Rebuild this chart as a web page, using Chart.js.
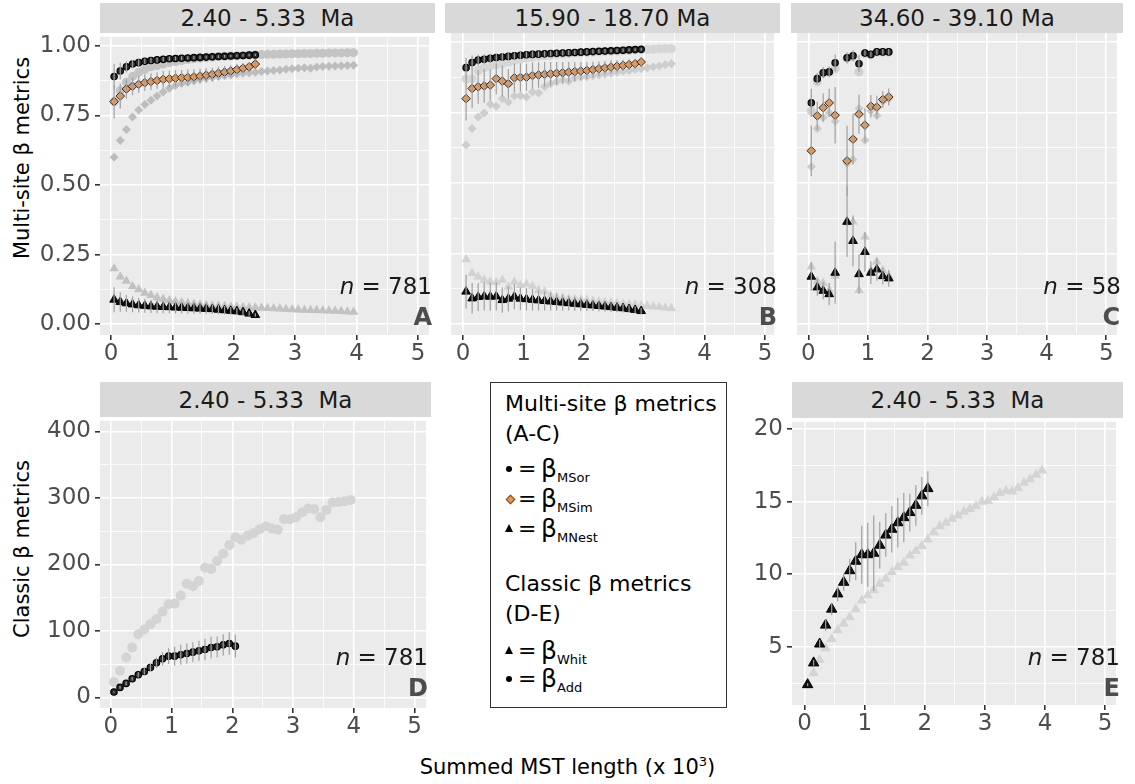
<!DOCTYPE html>
<html><head><meta charset="utf-8">
<script src="https://cdn.jsdelivr.net/npm/chart.js@4.4.1/dist/chart.umd.min.js"></script>
<style>
html,body{margin:0;padding:0;background:#fff;}
body{width:1135px;height:784px;position:relative;overflow:hidden;font-family:"DejaVu Sans",sans-serif;}
.strip{position:absolute;background:#D9D9D9;color:#1A1A1A;font-size:23px;display:flex;align-items:center;justify-content:center;white-space:pre;}
canvas{position:absolute;}
.nlab{position:absolute;font-size:23px;color:#1A1A1A;white-space:nowrap;line-height:26px;}
.plab{position:absolute;font-size:24px;font-weight:bold;color:#4D4D4D;line-height:26px;}
.ytitle{position:absolute;font-size:21px;color:#000;white-space:nowrap;transform:translate(-50%,-50%) rotate(-90deg);}
#legend{position:absolute;left:490px;top:382px;width:237px;height:326px;border:1px solid #333;box-sizing:border-box;background:#fff;}
.lt{position:absolute;left:14px;font-size:22px;color:#000;line-height:26px;white-space:nowrap;}
.lrow{position:absolute;left:14px;height:26px;width:200px;}
.lrow .s{position:absolute;}
.lrow .eq{position:absolute;left:13px;top:0;font-size:22px;line-height:26px;}
.lrow .b{position:absolute;left:36px;top:-1px;font-size:25px;line-height:28px;}
.lrow .sub{position:absolute;left:52px;top:14px;font-size:13px;line-height:16px;}
.dot{left:1px;top:10px;width:6px;height:6px;border-radius:50%;background:#000;}
.dia{left:2px;top:10px;width:5px;height:5px;background:#E39A5C;border:1px solid #7a4a20;transform:rotate(45deg);}
.tri{left:0px;top:8px;width:0;height:0;border-left:4px solid transparent;border-right:4px solid transparent;border-bottom:8px solid #000;}
</style></head><body>

<div class="strip" style="left:100px;top:3px;width:335px;height:30px;">2.40 - 5.33  Ma</div>
<div class="strip" style="left:445px;top:3px;width:335px;height:30px;">15.90 - 18.70 Ma</div>
<div class="strip" style="left:791px;top:3px;width:332px;height:30px;">34.60 - 39.10 Ma</div>
<div class="strip" style="left:100px;top:382px;width:331px;height:35px;">2.40 - 5.33  Ma</div>
<div class="strip" style="left:792px;top:382px;width:331px;height:36px;">2.40 - 5.33  Ma</div>

<div class="ytitle" style="left:22px;top:158px;">Multi-site β metrics</div>
<div class="ytitle" style="left:22px;top:549px;">Classic β metrics</div>
<div style="position:absolute;left:0;width:1135px;top:754px;text-align:center;font-size:21px;color:#000;">Summed MST length (x 10<sup style="font-size:13px;">3</sup>)</div>

<div id="legend">
  <div class="lt" style="top:8px;">Multi-site β metrics</div>
  <div class="lt" style="top:38px;">(A-C)</div>
  <div class="lrow" style="top:73px;"><span class="s dot"></span><span class="eq">=</span><span class="b">β</span><span class="sub">MSor</span></div>
  <div class="lrow" style="top:103px;"><span class="s dia"></span><span class="eq">=</span><span class="b">β</span><span class="sub">MSim</span></div>
  <div class="lrow" style="top:133px;"><span class="s tri"></span><span class="eq">=</span><span class="b">β</span><span class="sub">MNest</span></div>
  <div class="lt" style="top:188px;">Classic β metrics</div>
  <div class="lt" style="top:218px;">(D-E)</div>
  <div class="lrow" style="top:255px;"><span class="s tri"></span><span class="eq">=</span><span class="b">β</span><span class="sub">Whit</span></div>
  <div class="lrow" style="top:283px;"><span class="s dot"></span><span class="eq">=</span><span class="b">β</span><span class="sub">Add</span></div>
</div>

<script>
// ---------- x positions (summed MST length, x10^3) ----------
const x13 = [0.05,0.15,0.25,0.35,0.45,0.65,0.75,0.85,0.95,1.05,1.15,1.25,1.35];
const x21 = [0.05,0.15,0.25,0.35,0.45,0.55,0.65,0.75,0.85,0.95,1.05,1.15,1.25,1.35,1.45,1.55,1.65,1.75,1.85,1.95,2.05];
const x24 = [0.05,0.15,0.25,0.35,0.45,0.55,0.65,0.75,0.85,0.95,1.05,1.15,1.25,1.35,1.45,1.55,1.65,1.75,1.85,1.95,2.05,2.15,2.25,2.35];
const x30 = [0.05,0.15,0.25,0.35,0.45,0.55,0.65,0.75,0.85,0.95,1.05,1.15,1.25,1.35,1.45,1.55,1.65,1.75,1.85,1.95,2.05,2.15,2.25,2.35,2.45,2.55,2.65,2.75,2.85,2.95];
const x35 = [0.05,0.15,0.25,0.35,0.45,0.55,0.65,0.75,0.85,0.95,1.05,1.15,1.25,1.35,1.45,1.55,1.65,1.75,1.85,1.95,2.05,2.15,2.25,2.35,2.45,2.55,2.65,2.75,2.85,2.95,3.05,3.15,3.25,3.35,3.45];
const x40 = [0.05,0.15,0.25,0.35,0.45,0.55,0.65,0.75,0.85,0.95,1.05,1.15,1.25,1.35,1.45,1.55,1.65,1.75,1.85,1.95,2.05,2.15,2.25,2.35,2.45,2.55,2.65,2.75,2.85,2.95,3.05,3.15,3.25,3.35,3.45,3.55,3.65,3.75,3.85,3.95];

// ---------- tick values ----------
const xTicks = [0,0.5,1,1.5,2,2.5,3,3.5,4,4.5,5];
const xTickLabels = ['0','','1','','2','','3','','4','','5'];
const yTicksMS = [0,0.125,0.25,0.375,0.5,0.625,0.75,0.875,1];
const yTickLabelsMS = ['0.00','','0.25','','0.50','','0.75','','1.00'];
const yTicksD = [0,50,100,150,200,250,300,350,400];
const yTickLabelsD = ['0','','100','','200','','300','','400'];
const yTicksE = [2.5,5,7.5,10,12.5,15,17.5,20];
const yTickLabelsE = ['','5','','10','','15','','20'];

// ---------- Panel A (2.40 - 5.33 Ma, multi-site) ----------
const A_sorBlack = [0.89,0.91,0.925,0.935,0.94,0.945,0.948,0.95,0.952,0.954,0.955,0.956,0.957,0.958,0.959,0.96,0.961,0.962,0.963,0.964,0.965,0.966,0.967,0.968];
const A_sorBlackErr = [0.045,0.03,0.02,0.015,0.012,0.01,0.01,0.009,0.008,0.008,0.007,0.007,0.006,0.006,0.006,0.005,0.005,0.005,0.005,0.004,0.004,0.004,0.004,0.004];
const A_sorGrey = [0.80,0.84,0.87,0.89,0.905,0.915,0.925,0.93,0.935,0.94,0.944,0.948,0.951,0.954,0.956,0.958,0.96,0.962,0.963,0.964,0.965,0.966,0.967,0.968,0.969,0.97,0.97,0.971,0.971,0.972,0.972,0.973,0.973,0.974,0.974,0.975,0.975,0.975,0.976,0.976];
const A_simOrange = [0.80,0.82,0.845,0.855,0.862,0.868,0.872,0.876,0.88,0.882,0.884,0.886,0.887,0.889,0.892,0.895,0.898,0.902,0.906,0.91,0.915,0.92,0.925,0.935];
const A_simOrangeErr = [0.06,0.045,0.035,0.032,0.03,0.03,0.03,0.03,0.03,0.03,0.029,0.028,0.028,0.027,0.026,0.025,0.024,0.023,0.022,0.021,0.02,0.018,0.016,0.014];
const A_simGrey = [0.60,0.66,0.70,0.745,0.77,0.79,0.805,0.82,0.835,0.848,0.858,0.865,0.87,0.875,0.88,0.884,0.887,0.89,0.893,0.896,0.899,0.902,0.904,0.906,0.908,0.91,0.912,0.914,0.916,0.918,0.92,0.922,0.92,0.924,0.926,0.927,0.928,0.929,0.93,0.931];
const A_nesBlack = [0.088,0.08,0.075,0.071,0.068,0.066,0.064,0.063,0.062,0.061,0.06,0.059,0.058,0.057,0.056,0.055,0.054,0.052,0.05,0.048,0.046,0.043,0.038,0.033];
const A_nesBlackErr = [0.045,0.035,0.03,0.028,0.026,0.025,0.024,0.024,0.023,0.022,0.022,0.021,0.02,0.02,0.019,0.018,0.017,0.016,0.015,0.014,0.012,0.01,0.008,0.006];
const A_nesGrey = [0.20,0.17,0.155,0.135,0.125,0.112,0.104,0.096,0.09,0.085,0.081,0.078,0.075,0.072,0.07,0.068,0.066,0.065,0.064,0.063,0.062,0.061,0.06,0.059,0.058,0.057,0.056,0.055,0.054,0.053,0.052,0.051,0.05,0.05,0.049,0.048,0.047,0.046,0.045,0.044];

// ---------- Panel B (15.90 - 18.70 Ma) ----------
const B_sorBlack = [0.91,0.928,0.937,0.94,0.943,0.946,0.948,0.95,0.952,0.954,0.956,0.957,0.958,0.959,0.96,0.961,0.962,0.963,0.964,0.965,0.966,0.967,0.968,0.969,0.97,0.971,0.972,0.973,0.974,0.975];
const B_sorBlackErr = [0.035,0.025,0.02,0.018,0.016,0.015,0.014,0.013,0.012,0.012,0.011,0.011,0.01,0.01,0.01,0.009,0.009,0.009,0.008,0.008,0.008,0.007,0.007,0.007,0.006,0.006,0.006,0.005,0.005,0.005];
const B_sorGrey = [0.87,0.87,0.9,0.91,0.915,0.92,0.925,0.93,0.935,0.94,0.944,0.947,0.95,0.952,0.954,0.956,0.958,0.96,0.962,0.963,0.964,0.965,0.966,0.967,0.968,0.969,0.97,0.971,0.972,0.973,0.974,0.975,0.976,0.977,0.977];
const B_simOrange = [0.80,0.836,0.842,0.845,0.848,0.871,0.862,0.853,0.874,0.875,0.876,0.882,0.884,0.886,0.888,0.89,0.892,0.894,0.896,0.898,0.9,0.903,0.906,0.909,0.912,0.915,0.918,0.921,0.924,0.93];
const B_simOrangeErr = [0.078,0.07,0.06,0.06,0.055,0.055,0.055,0.052,0.05,0.05,0.048,0.046,0.045,0.044,0.042,0.04,0.038,0.036,0.034,0.032,0.03,0.028,0.026,0.025,0.024,0.022,0.02,0.019,0.018,0.016];
const B_simGrey = [0.635,0.694,0.735,0.749,0.78,0.773,0.80,0.788,0.809,0.81,0.806,0.824,0.82,0.842,0.853,0.86,0.866,0.862,0.874,0.876,0.878,0.881,0.884,0.887,0.89,0.894,0.897,0.9,0.903,0.906,0.91,0.913,0.916,0.92,0.924];
const B_nesBlack = [0.115,0.091,0.096,0.098,0.097,0.098,0.085,0.09,0.097,0.09,0.088,0.086,0.084,0.082,0.08,0.078,0.076,0.074,0.072,0.07,0.068,0.066,0.064,0.062,0.06,0.058,0.056,0.053,0.05,0.046];
const B_nesBlackErr = [0.06,0.055,0.05,0.05,0.05,0.05,0.045,0.045,0.045,0.04,0.04,0.038,0.036,0.034,0.032,0.03,0.028,0.026,0.025,0.024,0.022,0.02,0.019,0.018,0.017,0.016,0.015,0.014,0.013,0.012];
const B_nesGrey = [0.229,0.18,0.168,0.156,0.15,0.148,0.156,0.132,0.15,0.138,0.142,0.135,0.12,0.115,0.1,0.095,0.092,0.09,0.088,0.086,0.084,0.082,0.08,0.078,0.076,0.074,0.072,0.07,0.068,0.066,0.064,0.062,0.06,0.058,0.056];

// ---------- Panel C (34.60 - 39.10 Ma) ----------
const C_sorBlack = [0.785,0.871,0.892,0.895,0.927,0.945,0.952,0.924,0.962,0.957,0.966,0.966,0.966];
const C_sorBlackErr = [0.05,0.02,0.02,0.02,0.03,0.02,0.02,0.03,0.01,0.01,0.01,0.01,0.01];
const C_sorGrey = [0.756,0.86,0.89,0.893,0.907,0.943,0.95,0.895,0.96,0.955,0.965,0.965,0.965];
const C_simOrange = [0.615,0.739,0.768,0.785,0.741,0.579,0.656,0.745,0.706,0.773,0.77,0.797,0.806];
const C_simOrangeErr = [0.09,0.05,0.05,0.05,0.1,0.125,0.09,0.07,0.06,0.04,0.04,0.03,0.03];
const C_simGrey = [0.558,0.694,0.733,0.75,0.72,0.57,0.584,0.765,0.652,0.757,0.74,0.79,0.80];
const C_nesBlack = [0.168,0.13,0.118,0.106,0.182,0.363,0.295,0.177,0.256,0.182,0.194,0.17,0.162];
const C_nesBlackErr = [0.05,0.03,0.03,0.04,0.11,0.125,0.09,0.07,0.07,0.04,0.04,0.03,0.03];
const C_nesGrey = [0.203,0.152,0.145,0.12,0.17,0.36,0.363,0.12,0.31,0.19,0.221,0.19,0.17];

// ---------- Panel D (classic, beta Add) ----------
const D_addBlack = [8,15,21,28,34,39,45,52,58,62,62,64,66,68,70,72,75,76,79,81,77];
const D_addBlackErr = [1,2,3,3,4,5,6,8,10,12,14,15,15,15,15,16,16,16,16,17,17];
const D_addGrey = [23,40,60,75,95,102,110,118,129,140,141,153,171,167,175,195,193,205,216,229,241,237,243,247,253,257,254,252,268,268,271,278,284,283,271,282,293,294,295,297];

// ---------- Panel E (classic, beta Whit) ----------
const E_whitBlack = [2.4,3.9,5.2,6.5,7.6,8.65,9.45,10.25,10.9,11.35,11.35,11.45,12.0,12.7,13.1,13.55,13.9,14.25,14.75,15.4,15.9];
const E_whitBlackErr = [0.1,0.2,0.3,0.4,0.4,0.5,0.6,0.8,1.3,2.0,2.2,2.6,1.6,1.5,1.6,1.7,1.7,1.3,1.4,1.3,1.2];
const E_whitGrey = [2.4,3.2,4.1,4.9,5.55,6.15,6.6,7.05,7.6,8.2,8.55,8.9,9.35,9.7,10.15,10.5,10.8,11.3,11.6,11.95,12.4,12.9,13.3,13.55,13.8,14.05,14.3,14.5,14.7,15.0,15.05,15.3,15.6,15.75,15.7,15.95,16.3,16.55,16.85,17.15];

// ---------- helpers ----------
function pts(xs, ys){ return ys.map((y,i)=>({x:xs[i], y:y})); }
function errPts(xs, ys, es){
  const out=[];
  ys.forEach((y,i)=>{ out.push({x:xs[i],y:y-es[i]},{x:xs[i],y:y+es[i]},{x:xs[i],y:null}); });
  return out;
}
const ERR = '#A0A0A0';
function errDS(xs, ys, es){
  return {data:errPts(xs,ys,es), showLine:true, spanGaps:false, pointRadius:0, borderColor:ERR, borderWidth:1.2, order:0};
}
function ptDS(xs, ys, style, r, fill, stroke, bw, order){
  return {data:pts(xs,ys), showLine:false, pointStyle:style, pointRadius:r, pointHoverRadius:r,
    pointBackgroundColor:fill, pointBorderColor:stroke, pointBorderWidth:bw, order:order};
}
const ORANGE='#E39A5C', ORSTROKE='#3A2A1C';
function msSets(xb, xg, sorB, sorBE, sorG, simO, simOE, simG, nesB, nesBE, nesG, gc){
  return [
    ptDS(xg, sorG, 'circle', 4.5, gc.circ, gc.circ, 0, 6),
    ptDS(xg, simG, 'rectRot', 4.5, gc.dia, gc.dia, 0, 6),
    ptDS(xg, nesG, 'triangle', 5.5, gc.tri, gc.tri, 0, 6),
    errDS(xb, sorB, sorBE), errDS(xb, simO, simOE), errDS(xb, nesB, nesBE),
    ptDS(xb, sorB, 'circle', 3.2, '#2E2E2E', '#000', 1.2, 1),
    ptDS(xb, simO, 'rectRot', 4.3, ORANGE, ORSTROKE, 1, 1),
    ptDS(xb, nesB, 'triangle', 5, '#111', '#000', 1, 1)
  ];
}

const bgPlugin = {id:'panelbg', beforeDraw(c){
  const a=c.chartArea, ctx=c.ctx; ctx.save(); ctx.fillStyle='#EBEBEB';
  ctx.fillRect(a.left,a.top,a.right-a.left,a.bottom-a.top); ctx.restore(); }};

function makePanel(p){
  const padTop=14, xH=34;
  const cv=document.createElement('canvas');
  const left=p.L-p.yW, top=p.T-padTop;
  const w=p.R-left, h=p.B+xH-top;
  cv.width=w; cv.height=h; cv.style.left=left+'px'; cv.style.top=top+'px';
  cv.style.width=w+'px'; cv.style.height=h+'px';
  document.body.appendChild(cv);
  const isMajX = v => xTickLabels[xTicks.indexOf(v)] !== '';
  const isMajY = v => p.yLabels[p.yTicks.indexOf(v)] !== '';
  new Chart(cv.getContext('2d'), {
    type:'scatter',
    data:{datasets:p.datasets},
    options:{
      responsive:false, animation:false, devicePixelRatio:1,
      layout:{padding:{top:padTop,left:0,right:0,bottom:0}},
      plugins:{legend:{display:false}, tooltip:{enabled:false}},
      events:[],
      scales:{
        x:{type:'linear', position:'bottom', min:p.xmin, max:p.xmax,
          afterFit:s=>{s.height=xH;},
          afterBuildTicks:s=>{s.ticks=xTicks.map(v=>({value:v}));},
          border:{display:false},
          grid:{color:'#FFFFFF', lineWidth:c=>isMajX(c.tick.value)?1.6:0.8,
                tickColor:c=>isMajX(c.tick.value)?'#333333':'rgba(0,0,0,0)', tickLength:5, drawTicks:true},
          ticks:{autoSkip:false, maxRotation:0, padding:p.xPad, color:'#4D4D4D',
                 font:{family:'DejaVu Sans', size:23},
                 callback:(v)=>xTickLabels[xTicks.indexOf(v)]}
        },
        y:{type:'linear', position:'left', min:p.ymin, max:p.ymax,
          afterFit:s=>{s.width=p.yW;},
          afterBuildTicks:s=>{s.ticks=p.yTicks.map(v=>({value:v}));},
          border:{display:false},
          grid:{color:'#FFFFFF', lineWidth:c=>isMajY(c.tick.value)?1.6:0.8,
                tickColor:c=>(p.yShow && isMajY(c.tick.value))?'#333333':'rgba(0,0,0,0)', tickLength:p.yShow?5:0, drawTicks:p.yShow},
          ticks:{display:p.yShow, autoSkip:false, padding:4, color:'#4D4D4D',
                 font:{family:'DejaVu Sans', size:23},
                 callback:(v)=>p.yLabels[p.yTicks.indexOf(v)]}
        }
      }
    },
    plugins:[bgPlugin]
  });
}

const greyA={circ:'#C4C4C4', dia:'#BDBDBD', tri:'#C2C2C2'};
const greyB={circ:'#D6D6D6', dia:'#CDCDCD', tri:'#D2D2D2'};
const greyC={circ:'#D0D0D0', dia:'#CACACA', tri:'#CACACA'};

makePanel({L:100,R:435,T:33,B:335,yW:62,yShow:true,xPad:0,xmin:-0.18,xmax:5.18,ymin:-0.039,ymax:1.033,
  yTicks:yTicksMS,yLabels:yTickLabelsMS,
  datasets:msSets(x24,x40,A_sorBlack,A_sorBlackErr,A_sorGrey,A_simOrange,A_simOrangeErr,A_simGrey,A_nesBlack,A_nesBlackErr,A_nesGrey,greyA)});
makePanel({L:445,R:780,T:33,B:335,yW:0,yShow:false,xPad:0,xmin:-0.2,xmax:5.15,ymin:-0.039,ymax:1.033,
  yTicks:yTicksMS,yLabels:yTickLabelsMS,
  datasets:msSets(x30,x35,B_sorBlack,B_sorBlackErr,B_sorGrey,B_simOrange,B_simOrangeErr,B_simGrey,B_nesBlack,B_nesBlackErr,B_nesGrey,greyB)});
makePanel({L:791,R:1123,T:33,B:335,yW:0,yShow:false,xPad:0,xmin:-0.19,xmax:5.18,ymin:-0.039,ymax:1.033,
  yTicks:yTicksMS,yLabels:yTickLabelsMS,
  datasets:msSets(x13,x13,C_sorBlack,C_sorBlackErr,C_sorGrey,C_simOrange,C_simOrangeErr,C_simGrey,C_nesBlack,C_nesBlackErr,C_nesGrey,greyC)});
makePanel({L:100,R:431,T:417,B:708,yW:72,yShow:true,xPad:0,xmin:-0.18,xmax:5.19,ymin:-16,ymax:416,
  yTicks:yTicksD,yLabels:yTickLabelsD,
  datasets:[
    ptDS(x40, D_addGrey, 'circle', 5, '#D4D4D4', '#D4D4D4', 0, 6),
    errDS(x21, D_addBlack, D_addBlackErr),
    ptDS(x21, D_addBlack, 'circle', 3.2, '#2E2E2E', '#000', 1.2, 1)
  ]});
makePanel({L:792,R:1123,T:418,B:705,yW:60,yShow:true,xPad:0,xmin:-0.21,xmax:5.18,ymin:1.0,ymax:20.5,
  yTicks:yTicksE,yLabels:yTickLabelsE,
  datasets:[
    ptDS(x40, E_whitGrey, 'triangle', 6, '#D4D4D4', '#D4D4D4', 0, 6),
    errDS(x21, E_whitBlack, E_whitBlackErr),
    ptDS(x21, E_whitBlack, 'triangle', 6, '#111', '#000', 1, 1)
  ]});

// panel annotations
function note(html, right, cy, cls){
  const d=document.createElement('div'); d.className=cls; d.innerHTML=html;
  d.style.right=(1135-right)+'px'; d.style.top=(cy-13)+'px'; document.body.appendChild(d);
}
note('<i>n</i> = 781', 432, 286, 'nlab'); note('A', 432, 317, 'plab');
note('<i>n</i> = 308', 777, 286, 'nlab'); note('B', 777, 317, 'plab');
note('<i>n</i> = 58', 1121, 286, 'nlab'); note('C', 1120, 317, 'plab');
note('<i>n</i> = 781', 428, 657, 'nlab'); note('D', 428, 688, 'plab');
note('<i>n</i> = 781', 1120, 657, 'nlab'); note('E', 1120, 688, 'plab');
</script>
</body></html>
